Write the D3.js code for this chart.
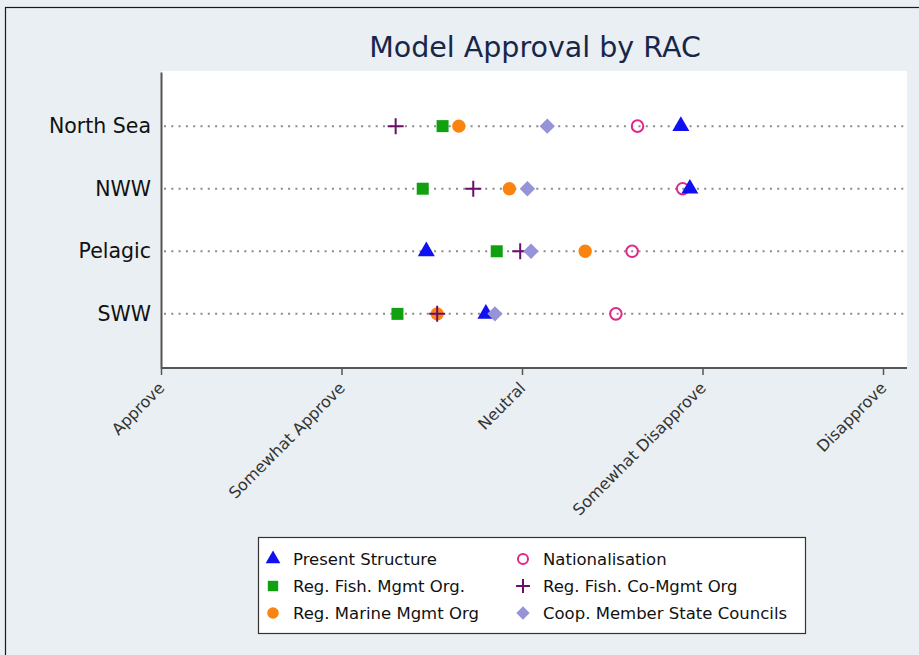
<!DOCTYPE html>
<html>
<head>
<meta charset="utf-8">
<script src="https://cdn.jsdelivr.net/npm/d3@7"></script>
<style>
  body { margin: 0; background: #e9eff2; }
  svg { display: block; font-family: "DejaVu Sans", Verdana, sans-serif; }
</style>
</head>
<body>
<svg id="chart"></svg>
<script>
const width = 919;
const height = 655;

// data
const regions = ["North Sea", "NWW", "Pelagic", "SWW"];
const scaleLabels = ["Approve", "Somewhat Approve", "Neutral", "Somewhat Disapprove", "Disapprove"];
const scaleValues = [1, 2, 3, 4, 5];

const seriesNames = [
  "Present Structure",
  "Reg. Fish. Mgmt Org.",
  "Reg. Marine Mgmt Org",
  "Nationalisation",
  "Reg. Fish. Co-Mgmt Org",
  "Coop. Member State Councils"
];
const presentStructure = [3.88, 3.93, 2.47, 2.80];
const regFishMgmt = [2.56, 2.45, 2.86, 2.31];
const regMarineMgmt = [2.65, 2.93, 3.35, 2.53];
const nationalisation = [3.64, 3.89, 3.61, 3.52];
const regFishCoMgmt = [2.30, 2.73, 2.99, 2.53];
const coopCouncils = [3.14, 3.03, 3.05, 2.85];

const seriesValues = [presentStructure, regFishMgmt, regMarineMgmt, nationalisation, regFishCoMgmt, coopCouncils];

// plus sign as a symbol type
const symbolPlusLine = {
  draw(context, size) {
    const r = Math.sqrt(size) / 2;
    context.moveTo(-r, 0);
    context.lineTo(r, 0);
    context.moveTo(0, -r);
    context.lineTo(0, r);
  }
};

// marker style for each series
const markerStyles = [
  { type: d3.symbolTriangle, size: 125, fill: "#1010f0", stroke: "none", rotate: 0 },
  { type: d3.symbolSquare, size: 144, fill: "#10a010", stroke: "none", rotate: 0 },
  { type: d3.symbolCircle, size: 140, fill: "#fb8410", stroke: "none", rotate: 0 },
  { type: d3.symbolCircle, size: 105, fill: "none", stroke: "#e0288a", rotate: 0 },
  { type: symbolPlusLine, size: 256, fill: "none", stroke: "#6c0d6c", rotate: 0 },
  { type: d3.symbolSquare, size: 118, fill: "#9793d8", stroke: "none", rotate: 45 }
];
// order marks are laid down (later ones sit on top)
const drawOrder = [3, 0, 1, 2, 4, 5];

const plotLeft = 161;
const plotRight = 907;
const plotTop = 71;
const plotBottom = 368;

let svg = d3.select("#chart").attr("width", width).attr("height", height);

// outer frame
svg.append("rect")
  .attr("x", 5.5).attr("y", 7.5)
  .attr("width", 960).attr("height", 700)
  .attr("fill", "#e9eff2")
  .attr("stroke", "#1a1a1a")
  .attr("stroke-width", 1.2);

// plot region
svg.append("rect")
  .attr("x", plotLeft).attr("y", plotTop)
  .attr("width", plotRight - plotLeft).attr("height", plotBottom - plotTop)
  .attr("fill", "#ffffff");

const xScale = d3.scaleLinear().domain([1, 5]).range([161, 883]);
const yScale = d3.scalePoint().domain(regions).range([plotTop + 1, plotBottom]).padding(0.865);

// title
svg.append("text")
  .attr("x", 535).attr("y", 57)
  .attr("text-anchor", "middle")
  .attr("font-size", 28.5)
  .attr("fill", "#18264a")
  .text("Model Approval by RAC");

// dotted row lines
svg.append("g")
  .selectAll("line")
  .data(regions)
  .enter()
  .append("line")
  .attr("x1", plotLeft + 3).attr("x2", plotRight)
  .attr("y1", (d) => yScale(d)).attr("y2", (d) => yScale(d))
  .attr("stroke", "#8a8a8a")
  .attr("stroke-width", 2)
  .attr("stroke-dasharray", "2,5.3");

// y axis
let yAxis = d3.axisLeft(yScale).tickSize(0).tickPadding(10);
let yG = svg.append("g")
  .attr("transform", "translate(" + plotLeft + ",0)")
  .call(yAxis);
yG.select(".domain").attr("stroke", "#555").attr("stroke-width", 2);
yG.selectAll("text")
  .attr("font-size", 20.5)
  .attr("fill", "#111")
  .attr("font-family", "DejaVu Sans, sans-serif");

// x axis
let xAxis = d3.axisBottom(xScale)
  .tickValues(scaleValues)
  .tickFormat((d, i) => scaleLabels[i])
  .tickSize(7)
  .tickSizeOuter(0);
let xG = svg.append("g")
  .attr("transform", "translate(0," + plotBottom + ")")
  .call(xAxis);
xG.select(".domain")
  .attr("d", "M" + plotLeft + ",0H" + plotRight)
  .attr("stroke", "#555").attr("stroke-width", 2);
xG.selectAll(".tick line").attr("stroke", "#555").attr("stroke-width", 1.5);
xG.selectAll("text")
  .attr("font-size", 16)
  .attr("fill", "#333")
  .attr("font-family", "DejaVu Sans, sans-serif")
  .attr("text-anchor", "end")
  .attr("y", 0)
  .attr("dy", 0)
  .attr("transform", "translate(4,21) rotate(-45)");

// markers
const markerPath = (s) => d3.symbol().type(s.type).size(s.size);

drawOrder.forEach((si) => {
  const s = markerStyles[si];
  svg.append("g")
    .selectAll("path")
    .data(seriesValues[si].map((v, i) => ({ region: regions[i], value: v })))
    .enter()
    .append("path")
    .attr("d", markerPath(s))
    .attr("transform", (d) => "translate(" + xScale(d.value) + "," + yScale(d.region) + ") rotate(" + s.rotate + ")")
    .attr("fill", s.fill)
    .attr("stroke", s.stroke)
    .attr("stroke-width", s.stroke === "none" ? 0 : 2);
});

// legend
const legendX = 258.5;
const legendY = 537.5;
let legend = svg.append("g");
legend.append("rect")
  .attr("x", legendX).attr("y", legendY)
  .attr("width", 547).attr("height", 96)
  .attr("fill", "#ffffff")
  .attr("stroke", "#333")
  .attr("stroke-width", 1.2);

const legendCol = d3.scaleOrdinal().domain([0, 1]).range([273, 523]);
const legendRow = d3.scalePoint().domain([0, 1, 2]).range([559, 613]);

let items = legend.selectAll("g.item")
  .data(seriesNames.map((name, i) => ({ name: name, i: i })))
  .enter()
  .append("g")
  .attr("class", "item")
  .attr("transform", (d) => "translate(" + legendCol(Math.floor(d.i / 3)) + "," + legendRow(d.i % 3) + ")");

items.append("path")
  .attr("d", (d) => {
    const s = markerStyles[d.i];
    return d3.symbol().type(s.type).size(s.size * 0.75)();
  })
  .attr("transform", (d) => "rotate(" + markerStyles[d.i].rotate + ")")
  .attr("fill", (d) => markerStyles[d.i].fill)
  .attr("stroke", (d) => markerStyles[d.i].stroke)
  .attr("stroke-width", (d) => markerStyles[d.i].stroke === "none" ? 0 : 2);

items.append("text")
  .attr("x", 20)
  .attr("dy", "0.35em")
  .attr("font-size", 16.5)
  .attr("fill", "#111")
  .text((d) => d.name);
</script>
</body>
</html>
